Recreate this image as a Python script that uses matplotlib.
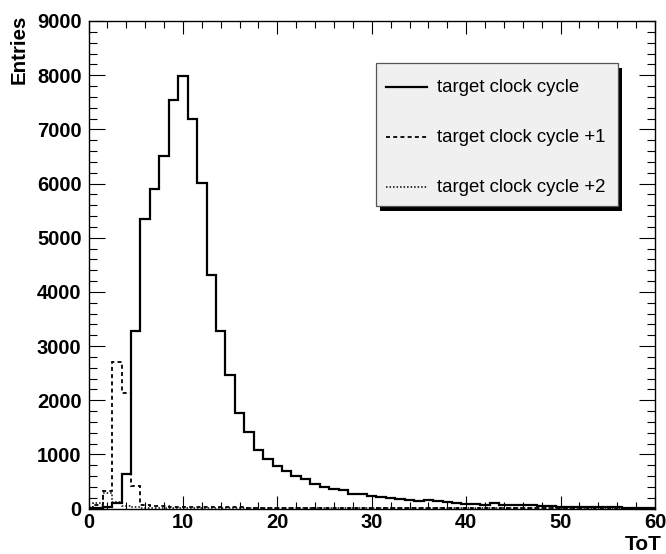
import numpy as np
import matplotlib
matplotlib.use("Agg")
import matplotlib.pyplot as plt
from matplotlib.patches import Rectangle
from matplotlib.lines import Line2D
from matplotlib.ticker import MultipleLocator

# ToT bins 0..60 (bin n covers n-0.5 .. n+0.5)
tot_bins = np.arange(0, 61)
bin_edges = np.arange(-0.5, 61.0, 1.0)

# target clock cycle
counts_target = [
    5, 15, 35, 105, 630, 3280, 5350, 5895, 6510, 7540,
    7980, 7190, 6005, 4310, 3280, 2465, 1770, 1405, 1080, 910,
    785, 685, 605, 545, 455, 390, 360, 335, 270, 268,
    235, 215, 188, 172, 160, 145, 150, 138, 120, 110,
    90, 88, 68, 105, 68, 65, 62, 60, 48, 44,
    36, 32, 24, 22, 22, 20, 20, 18, 18, 16,
    16,
]

# target clock cycle +1
counts_plus1 = [
    10, 60, 330, 2710, 2140, 420, 60, 45, 40, 35,
    35, 32, 30, 28, 25, 22, 20, 18, 18, 16,
    15, 14, 13, 12, 12, 11, 10, 10, 9, 9,
    8, 8, 7, 7, 7, 6, 6, 6, 5, 5,
    5, 5, 4, 4, 4, 4, 4, 3, 3, 3,
    3, 3, 3, 3, 2, 2, 2, 2, 2, 2,
    2,
]

# target clock cycle +2
counts_plus2 = [
    20, 110, 280, 120, 50, 25, 15, 10, 8, 8,
    7, 7, 6, 6, 5, 5, 5, 4, 4, 4,
    4, 3, 3, 3, 3, 3, 3, 2, 2, 2,
    2, 2, 2, 2, 2, 2, 2, 2, 1, 1,
    1, 1, 1, 1, 1, 1, 1, 1, 1, 1,
    1, 1, 1, 1, 1, 1, 1, 1, 1, 1,
    1,
]

series_labels = ["target clock cycle", "target clock cycle +1", "target clock cycle +2"]

plt.rcParams["font.family"] = ["Liberation Sans", "DejaVu Sans"]

W, H = 666, 554
fig = plt.figure(figsize=(W / 100, H / 100), dpi=100)
fig.patch.set_facecolor("white")


def fx(x):
    return x / W


def fy(y):
    return 1 - y / H


# axes box in pixels: left 88.5, right 655, top 21, bottom 508.5
ax = fig.add_axes([fx(88.5), fy(508.5), fx(655) - fx(88.5), fy(21) - fy(508.5)])

dash = (0, (2.2, 1.8))
dots = (0, (1, 1.3))
ax.stairs(counts_target, bin_edges, color="black", lw=1.6, linestyle="-")
ax.stairs(counts_plus1, bin_edges, color="black", lw=1.3, linestyle=dash)
ax.stairs(counts_plus2, bin_edges, color="black", lw=1.1, linestyle=dots)

ax.set_xlim(0, 60)
ax.set_ylim(0, 9000)

ax.xaxis.set_major_locator(MultipleLocator(10))
ax.xaxis.set_minor_locator(MultipleLocator(2))
ax.yaxis.set_major_locator(MultipleLocator(1000))
ax.yaxis.set_minor_locator(MultipleLocator(200))

ax.tick_params(which="both", direction="in", top=True, right=True, width=0.8, color="black")
ax.tick_params(axis="x", which="major", length=9.4, pad=3.5, labelsize=14.5)
ax.tick_params(axis="x", which="minor", length=4.7)
ax.tick_params(axis="y", which="major", length=11.5, pad=5, labelsize=14.5)
ax.tick_params(axis="y", which="minor", length=5.8)
for lab in ax.get_xticklabels() + ax.get_yticklabels():
    lab.set_fontweight("bold")
for sp in ax.spines.values():
    sp.set_linewidth(1.0)

# axis titles
fig.text(fx(19), fy(15), "Entries", rotation=90, ha="center", va="top",
         fontsize=14.8, fontweight="bold")
fig.text(fx(662), fy(545), "ToT", ha="right", va="center",
         fontsize=15, fontweight="bold")

# legend box with drop shadow
bx0, by0, bx1, by1 = 376, 63, 618, 206
fig.add_artist(Rectangle((fx(bx0 + 4), fy(by1 + 5)), fx(bx1 - bx0), fy(by0) - fy(by1),
                         transform=fig.transFigure, facecolor="black", edgecolor="none"))
fig.add_artist(Rectangle((fx(bx0), fy(by1)), fx(bx1 - bx0), fy(by0) - fy(by1),
                         transform=fig.transFigure, facecolor="#f0f0f0",
                         edgecolor="#555555", lw=0.9))

styles = [("-", 1.6), (dash, 1.3), (dots, 1.1)]
row_y = [87, 137, 187]
for (ls, lw), yy, label in zip(styles, row_y, series_labels):
    fig.add_artist(Line2D([fx(386), fx(427)], [fy(yy), fy(yy)], transform=fig.transFigure,
                          color="black", lw=lw, linestyle=ls))
    fig.text(fx(437), fy(yy), label, ha="left", va="center", fontsize=13.4)

fig.savefig("out.png", dpi=100)
